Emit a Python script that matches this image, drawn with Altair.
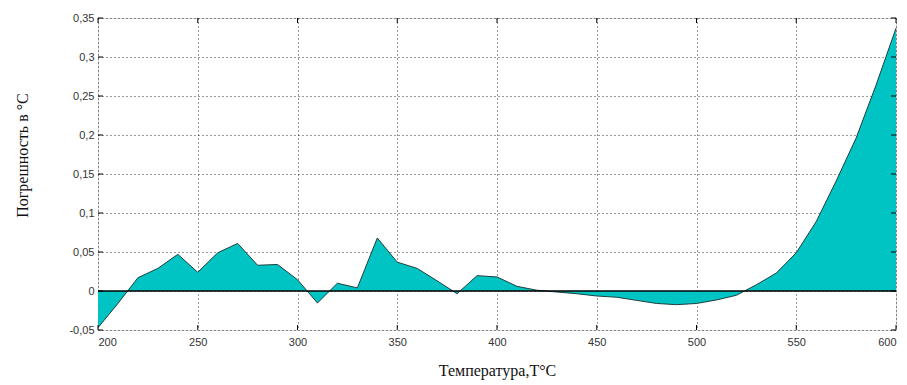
import altair as alt
import pandas as pd

temps = [200, 210, 220, 230, 240, 250, 260, 270, 280, 290, 300, 310, 320, 330, 340, 350,
         360, 370, 380, 390, 400, 410, 420, 430, 440, 450, 460, 470, 480, 490, 500, 510,
         520, 530, 540, 550, 560, 570, 580, 590, 600]
errors = [-0.047, -0.016, 0.017, 0.029, 0.047, 0.024, 0.049, 0.061, 0.033, 0.034, 0.0145, -0.0154,
          0.010, 0.004, 0.068, 0.037, 0.029, 0.013, -0.0035, 0.0197, 0.018, 0.006, 0.001,
          -0.0013, -0.0035, -0.0064, -0.008, -0.012, -0.016, -0.0175, -0.016, -0.0115,
          -0.0055, 0.008, 0.023, 0.049, 0.089, 0.141, 0.196, 0.264, 0.337]
x_ticks = [200, 250, 300, 350, 400, 450, 500, 550, 600]
y_ticks = [-0.05, 0, 0.05, 0.1, 0.15, 0.2, 0.25, 0.3, 0.35]

df = pd.DataFrame({"T": temps, "E": errors})
xt = pd.DataFrame({"v": x_ticks})
yt = pd.DataFrame({"v": y_ticks})

W, H = 798, 312
xs = alt.Scale(domain=[200, 600], nice=False, zero=False)
ys = alt.Scale(domain=[-0.05, 0.35], nice=False, zero=False)

x_axis = alt.Axis(values=x_ticks, grid=True, gridDash=[1, 3], gridColor="#000", gridOpacity=0.8,
                  ticks=False, domain=False, labelFont="Liberation Sans", labelFontSize=11,
                  labelColor="#333", labelPadding=6, labelOverlap=False, title="Температура,Т°С",
                  titleFont="Liberation Serif", titleFontSize=16, titleFontWeight="normal",
                  titleColor="#111", titlePadding=15)
y_axis = alt.Axis(values=y_ticks, grid=True, gridDash=[1, 3], gridColor="#000", gridOpacity=0.8,
                  ticks=False, domain=False, labelFont="Liberation Sans", labelFontSize=11,
                  labelColor="#333", labelPadding=4, labelOverlap=False,
                  labelExpr="replace(replace(format(datum.value, '.2~f'), '.', ','), '\u2212', '-')",
                  title="Погрешность в °С", titleFont="Liberation Serif", titleFontSize=16,
                  titleFontWeight="normal", titleColor="#111", titleX=-68, titleY=137)

area = alt.Chart(df).mark_area(color="#00c4c4", opacity=1).encode(
    x=alt.X("T:Q", scale=xs, axis=x_axis),
    y=alt.Y("E:Q", scale=ys, axis=y_axis),
    y2=alt.datum(0),
)
line = alt.Chart(df).mark_line(color="#1f3f3f", strokeWidth=1).encode(
    x=alt.X("T:Q", scale=xs, axis=x_axis), y=alt.Y("E:Q", scale=ys, axis=y_axis)
)
zero = alt.Chart(pd.DataFrame({"z": [0]})).mark_rule(color="#000", strokeWidth=1.5).encode(
    y=alt.Y("z:Q", scale=ys, axis=y_axis)
)
tick_b = alt.Chart(xt).mark_rule(color="#000").encode(
    x=alt.X("v:Q", scale=xs, axis=x_axis), y=alt.value(H), y2=alt.value(H - 5))
tick_t = alt.Chart(xt).mark_rule(color="#000").encode(
    x=alt.X("v:Q", scale=xs, axis=x_axis), y=alt.value(0), y2=alt.value(5))
tick_l = alt.Chart(yt).mark_rule(color="#000").encode(
    y=alt.Y("v:Q", scale=ys, axis=y_axis), x=alt.value(0), x2=alt.value(5))
tick_r = alt.Chart(yt).mark_rule(color="#000").encode(
    y=alt.Y("v:Q", scale=ys, axis=y_axis), x=alt.value(W), x2=alt.value(W - 5))

chart = alt.layer(area, line, zero, tick_b, tick_t, tick_l, tick_r).properties(
    width=W, height=H, autosize=alt.AutoSizeParams(type="none"),
    padding={"left": 90, "top": 10, "right": 3, "bottom": 50},
).configure_view(stroke="#000", strokeWidth=1).configure(background="white")

chart.save("out.html", embed_options={"renderer": "svg", "actions": False})
